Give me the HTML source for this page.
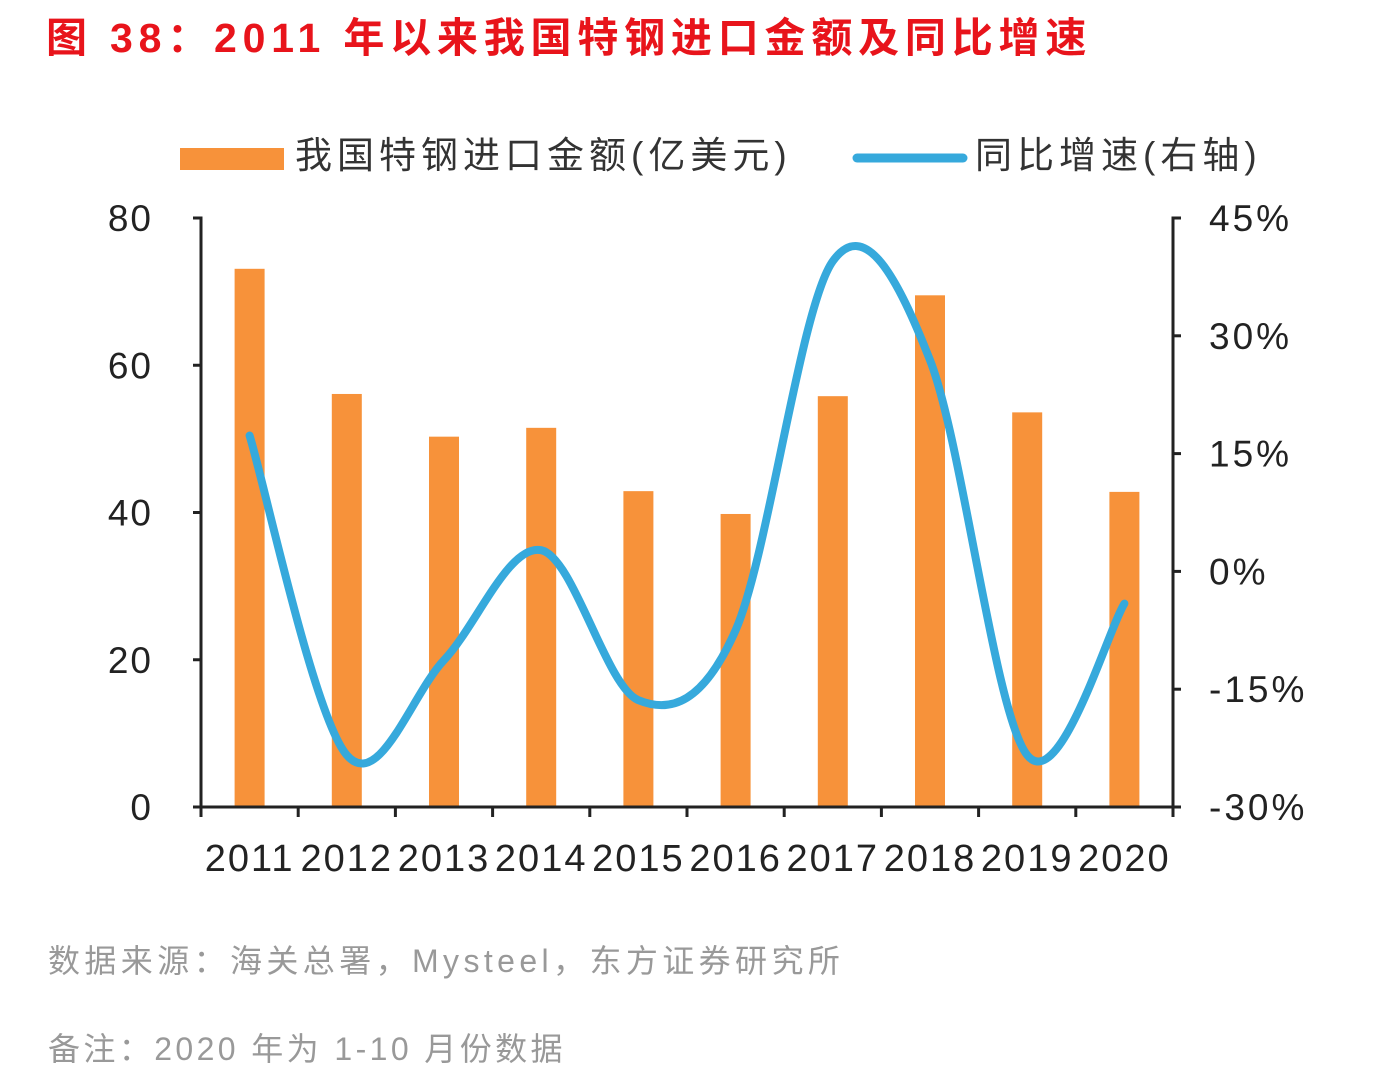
<!DOCTYPE html>
<html><head><meta charset="utf-8"><style>
body{margin:0;background:#fff;width:1380px;height:1084px;overflow:hidden;font-family:"Liberation Sans","Noto Sans CJK SC",sans-serif}
svg{position:absolute;left:0;top:0}
</style></head><body>
<svg width="1380" height="1084">
<text x="46" y="52" font-size="41" font-weight="bold" fill="#e8141b" letter-spacing="5.8">图 38：2011 年以来我国特钢进口金额及同比增速</text>
<rect x="180" y="148" width="104" height="22" fill="#f7923a"/>
<text x="295" y="168" font-size="37" fill="#333" letter-spacing="5">我国特钢进口金额(亿美元)</text>
<line x1="857" y1="158" x2="963" y2="158" stroke="#36a9dc" stroke-width="9" stroke-linecap="round"/>
<text x="975" y="168" font-size="37" fill="#333" letter-spacing="5">同比增速(右轴)</text>
<g id="plot"></g>
<text x="48" y="972" font-size="32" fill="#999" letter-spacing="4.4">数据来源：海关总署，Mysteel，东方证券研究所</text>
<text x="48" y="1060" font-size="32" fill="#999" letter-spacing="3.4">备注：2020 年为 1-10 月份数据</text>
</svg>
<script>
const categories=["2011","2012","2013","2014","2015","2016","2017","2018","2019","2020"];
const importValues=[73.1,56.1,50.3,51.5,42.9,39.8,55.8,69.5,53.6,42.8];
const growthValues=[17.3,-23.4,-11.3,2.7,-16.4,-7.5,39.5,26.9,-23.4,-4.1];
const leftTicks=[0,20,40,60,80];
const rightTicks=[-30,-15,0,15,30,45];
const rightTickLabels=["-30%","-15%","0%","15%","30%","45%"];
const NS="http://www.w3.org/2000/svg";
const g=document.getElementById('plot');
const X0=201,X1=1173,Y0=807,Y1=218;
const band=(X1-X0)/categories.length;
const xc=i=>X0+band*(i+0.5);
const yL=v=>Y0-(v/80)*(Y0-Y1);
const yR=v=>Y0-((v+30)/75)*(Y0-Y1);
function el(t,a){const e=document.createElementNS(NS,t);for(const k in a)e.setAttribute(k,a[k]);g.appendChild(e);return e;}
importValues.forEach((v,i)=>{
 const r=el('rect',{x:xc(i)-15,y:yL(v),width:30,height:Y0-yL(v),fill:'#f7923a'});
 
 
});
const ax=el('path',{d:`M${X0-8},${Y1}H${X0}V${Y0}H${X1}V${Y1}H${X1+8}`,stroke:'#222','stroke-width':3,fill:'none'});


leftTicks.forEach(v=>{
 el('line',{x1:X0-8,x2:X0,y1:yL(v),y2:yL(v),stroke:'#222','stroke-width':3});
 const t=el('text',{x:X0-48,y:yL(v)+13,'font-size':37,fill:'#222','text-anchor':'end','letter-spacing':2});t.textContent=v;
 
 
});
rightTicks.forEach((v,i)=>{
 el('line',{x1:X1,x2:X1+8,y1:yR(v),y2:yR(v),stroke:'#222','stroke-width':3});
 const t=el('text',{x:X1+36,y:yR(v)+13,'font-size':37,fill:'#222','letter-spacing':3});t.textContent=rightTickLabels[i];
 
 
});
for(let i=0;i<=categories.length;i++){el('line',{x1:X0+band*i,x2:X0+band*i,y1:Y0,y2:Y0+10,stroke:'#222','stroke-width':3});}
categories.forEach((c,i)=>{
 const t=el('text',{x:xc(i),y:Y0+64,'font-size':38,fill:'#222','text-anchor':'middle','letter-spacing':2});t.textContent=c;
 
 
});
const pts=growthValues.map((v,i)=>[xc(i),yR(v)]);
let d=`M${pts[0][0]},${pts[0][1]}`;
for(let i=0;i<pts.length-1;i++){
 const p0=pts[Math.max(0,i-1)],p1=pts[i],p2=pts[i+1],p3=pts[Math.min(pts.length-1,i+2)];
 const c1=[p1[0]+(p2[0]-p0[0])/6,p1[1]+(p2[1]-p0[1])/6];
 const c2=[p2[0]-(p3[0]-p1[0])/6,p2[1]-(p3[1]-p1[1])/6];
 d+=` C${c1[0]},${c1[1]} ${c2[0]},${c2[1]} ${p2[0]},${p2[1]}`;
}
const ln=el('path',{d:d,stroke:'#36a9dc','stroke-width':8,fill:'none','stroke-linecap':'round'});


</script>
</body></html>
